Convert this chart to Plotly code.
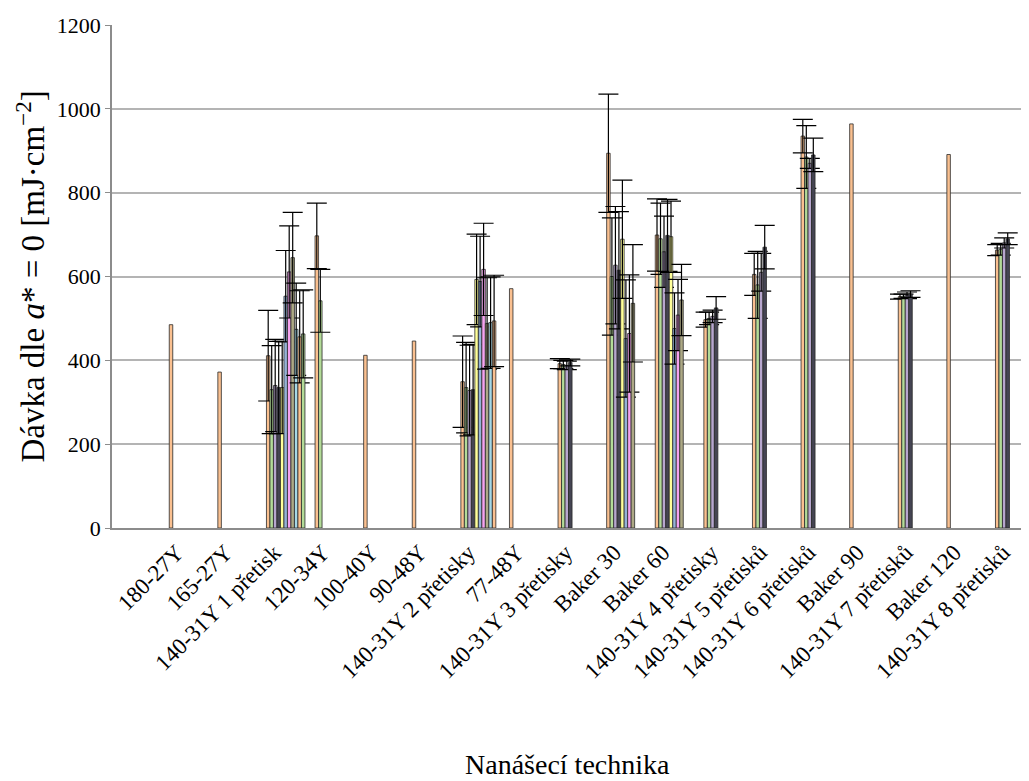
import plotly.graph_objects as go

categories = ["180-27Y", "165-27Y", "140-31Y 1 přetisk", "120-34Y", "100-40Y", "90-48Y",
              "140-31Y 2 přetisky", "77-48Y", "140-31Y 3 přetisky", "Baker 30", "Baker 60",
              "140-31Y 4 přetisky", "140-31Y 5 přetisků", "140-31Y 6 přetisků", "Baker 90",
              "140-31Y 7 přetisků", "Baker 120", "140-31Y 8 přetisků"]
N = None
s0 = [485, 372, 411, 697, 412, 446, 349, 571, 392, 894, 699, 497, 605, 935, 964, 552, 891, 663]
e0 = [N, N, 108, 78, N, N, 109, N, 12, 141, 86, 18, 50, 40, N, 6, N, 13]
s1 = [N, N, 330, 542, N, N, 335, N, 390, 600, 690, 500, 580, 885, N, 553, N, 665]
e1 = [N, N, 105, 75, N, N, 108, N, 10, 140, 85, 15, 80, 75, N, 5, N, 14]
s2 = [N, N, 340, N, N, N, 328, N, 388, 627, 659, 505, 610, 870, N, 555, N, 680]
e2 = [N, N, 110, N, N, N, 108, N, 10, 140, 85, 15, 45, 12, N, 8, N, 12]
s3 = [N, N, 335, N, N, N, 330, N, 395, 615, 698, 525, 670, 890, N, 558, N, 690]
e3 = [N, N, 110, N, N, N, 108, N, 8, 140, 86, 27, 52, 40, N, 8, N, 14]
s4 = [N, N, 335, N, N, N, 593, N, N, 689, 695, N, N, N, N, N, N, N]
e4 = [N, N, 110, N, N, N, 108, N, N, 141, 85, N, N, N, N, N, N, N]
s5 = [N, N, 553, N, N, N, 588, N, N, 452, 476, N, N, N, N, N, N, N]
e5 = [N, N, 109, N, N, N, 108, N, N, 140, 85, N, N, N, N, N, N, N]
s6 = [N, N, 611, N, N, N, 617, N, N, 464, 508, N, N, N, N, N, N, N]
e6 = [N, N, 110, N, N, N, 110, N, N, 140, 85, N, N, N, N, N, N, N]
s7 = [N, N, 645, N, N, N, 488, N, N, 536, 544, N, N, N, N, N, N, N]
e7 = [N, N, 108, N, N, N, 109, N, N, 140, 85, N, N, N, N, N, N, N]
s8 = [N, N, 474, N, N, N, 490, N, N, N, N, N, N, N, N, N, N, N]
e8 = [N, N, 110, N, N, N, 109, N, N, N, N, N, N, N, N, N, N, N]
s9 = [N, N, 456, N, N, N, 494, N, N, N, N, N, N, N, N, N, N, N]
e9 = [N, N, 110, N, N, N, 109, N, N, N, N, N, N, N, N, N, N, N]
s10 = [N, N, 463, N, N, N, N, N, N, N, N, N, N, N, N, N, N, N]
e10 = [N, N, 105, N, N, N, N, N, N, N, N, N, N, N, N, N, N, N]

series = [s0, s1, s2, s3, s4, s5, s6, s7, s8, s9, s10]
errors = [e0, e1, e2, e3, e4, e5, e6, e7, e8, e9, e10]
colors = ["#FAC090", "#B3DB98", "#B7A6CE", "#454553", "#FFFF99", "#95B3D7",
          "#F6A3F0", "#ADA985", "#A6D8E6", "#FAC090", "#B3DB98"]

slot_w = 0.072
first_off = -0.159

fig = go.Figure()
for k, (vals, errs, col) in enumerate(zip(series, errors, colors)):
    # bars that carry an error bar
    v_err = [v if e is not None else None for v, e in zip(vals, errs)]
    # bars without an error bar
    v_plain = [v if e is None else None for v, e in zip(vals, errs)]
    common = dict(x=categories, width=slot_w, offset=first_off + k * slot_w,
                  marker=dict(color=col, line=dict(color="#2a2a2a", width=0.8)),
                  showlegend=False)
    if any(v is not None for v in v_plain):
        fig.add_trace(go.Bar(y=v_plain, **common))
    if any(v is not None for v in v_err):
        fig.add_trace(go.Bar(
            y=v_err,
            error_y=dict(type="data", array=[e if e is not None else 0 for e in errs],
                         visible=True, color="black", thickness=1.2, width=10),
            **common))

font = "Liberation Serif"
fig.update_layout(
    width=1021, height=773,
    barmode="overlay",
    paper_bgcolor="white", plot_bgcolor="white",
    margin=dict(l=104, r=7, t=17, b=253),
    font=dict(family=font, color="black"),
    xaxis=dict(
        type="category", range=[-1.337, 17.387], automargin=False,
        tickangle=-45, tickfont=dict(size=23, family=font, color="black"),
        showgrid=False, showline=True, linecolor="#8c8c8c", linewidth=2,
        ticks="",
    ),
    yaxis=dict(
        range=[0, 1200], dtick=200, automargin=False,
        tickfont=dict(size=22, family=font, color="black"),
        showgrid=True, gridcolor="#b4b4b4", gridwidth=1.5,
        showline=True, linecolor="#8c8c8c", linewidth=1.5,
        ticks="outside", ticklen=5, tickcolor="#8c8c8c",
        zeroline=False,
    ),
    annotations=[
        dict(text="Nanášecí technika", xref="paper", yref="paper",
             x=0.5, y=-0.471, xanchor="center", yanchor="middle", showarrow=False,
             font=dict(size=28, family=font, color="black")),
        dict(text="Dávka dle <i>a</i>* = 0 [mJ·cm<sup>−2</sup>]", xref="paper", yref="paper",
             x=-0.0901, y=0.5, xanchor="center", yanchor="middle", showarrow=False,
             textangle=-90, font=dict(size=33, family=font, color="black")),
    ],
)
fig.write_html("out.html")
